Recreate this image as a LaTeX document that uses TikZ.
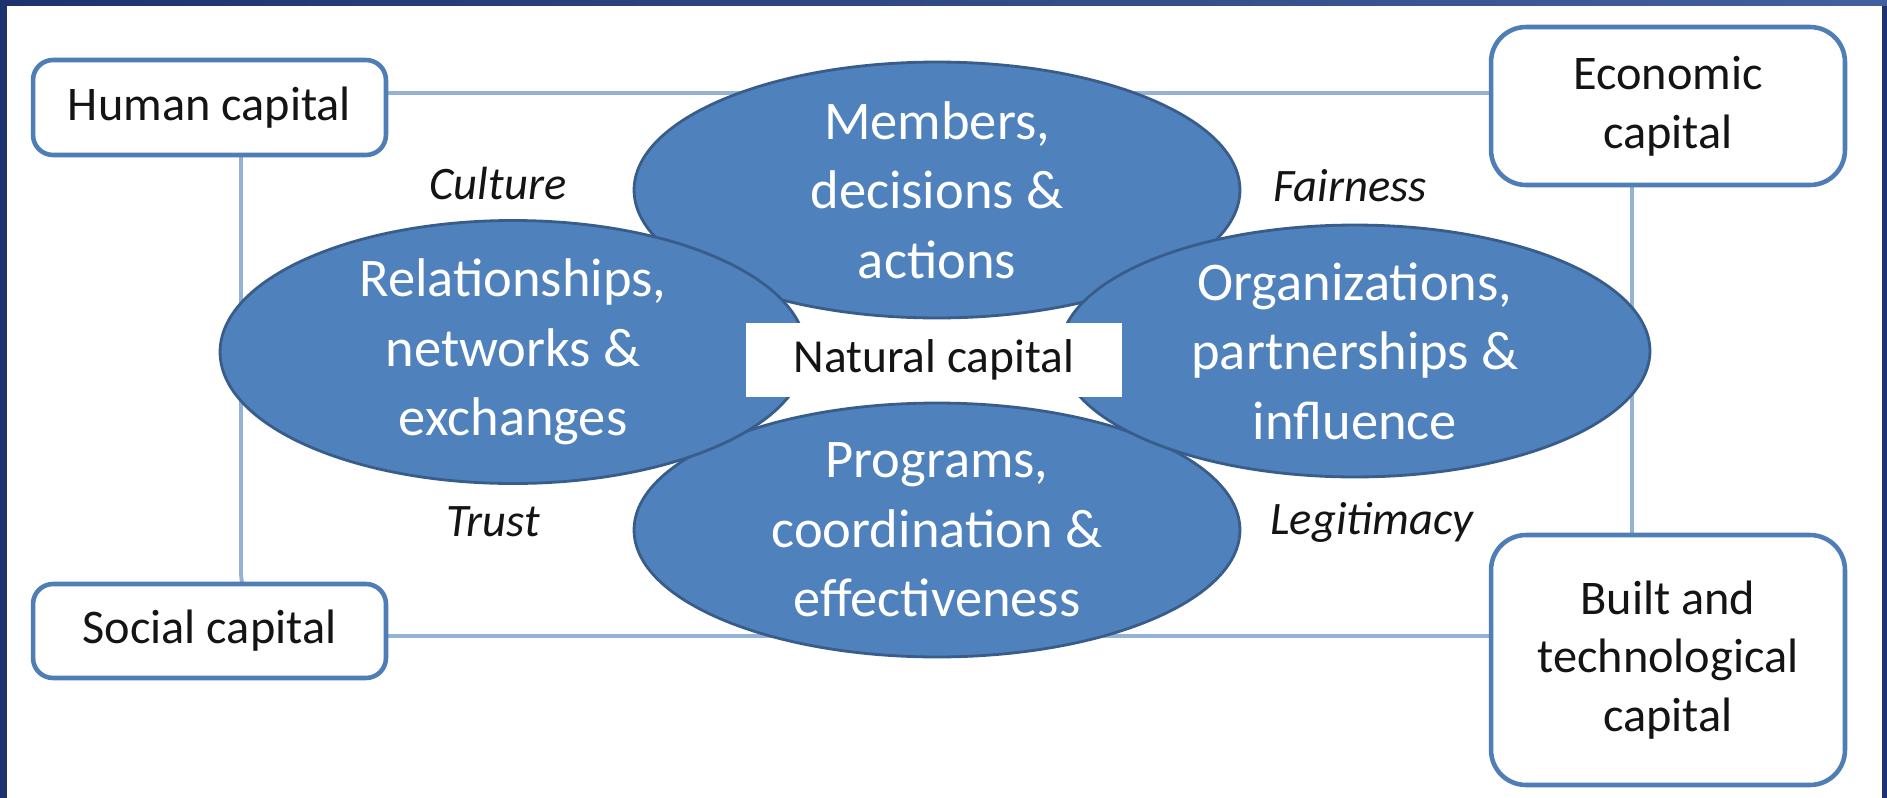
\documentclass[tikz,border=0pt]{standalone}
\usepackage{fontspec}
\setmainfont{Carlito}
\usepackage{tikz}
\usetikzlibrary{
  shapes.geometric
}
\definecolor{SlideNavy}{RGB}{31,50,112}
\definecolor{SlideNavyLight}{RGB}{66,96,158}
\definecolor{CoreBlue}{RGB}{79,129,189}
\definecolor{CoreEdge}{RGB}{56,93,138}
\definecolor{BoxEdge}{RGB}{79,125,182}
\definecolor{LinkBlue}{RGB}{149,177,212}
\definecolor{InkBlack}{RGB}{20,20,20}
\tikzset{
  capbox/.style={draw=BoxEdge,fill=white,line width=2.6pt,rounded corners=0.4cm,align=center,inner sep=0pt,text=InkBlack,font=\fontsize{27.5}{33.5}\selectfont},
  bigcapbox/.style={capbox,rounded corners=0.7cm},
  corenode/.style={ellipse,draw=CoreEdge,fill=CoreBlue,line width=1.6pt,inner sep=0pt,align=center,text=white,font=\fontsize{31}{39.5}\selectfont},
  naturalbox/.style={fill=white,minimum width=7.54cm,minimum height=1.48cm,inner sep=0pt,text=InkBlack,font=\fontsize{27}{32}\selectfont},
  bondlabel/.style={text=InkBlack,font=\fontsize{26.5}{30}\selectfont\itshape},
  framelink/.style={draw=LinkBlue,line width=2.2pt,rounded corners=1.3cm}
}

\begin{document}
\begin{tikzpicture}[x=0.02cm,y=-0.02cm]
% slide and its navy edge
\useasboundingbox (0,0) rectangle (1887,798);
\fill[white] (0,0) rectangle (1887,798);
\fill[SlideNavy] (0,0) rectangle (7,798);
\fill[SlideNavy] (1882,0) rectangle (1887,798);
\shade[left color=SlideNavy,right color=SlideNavyLight] (0,0) rectangle (1887,5);

% ring joining the four capitals
\coordinate (fnw) at (241,93);
\coordinate (fse) at (1632,636);
\draw[framelink] (fnw) rectangle (fse);

\node[capbox,minimum width=7.06cm,minimum height=1.9cm] (human) at (209.5,107.5) {Human capital};
\node[bigcapbox,minimum width=7.08cm,minimum height=3.16cm] (economic) at (1668,106) {Economic\\capital};
\node[capbox,minimum width=7.06cm,minimum height=1.88cm] (social) at (209.5,631) {Social capital};
\node[bigcapbox,minimum width=7.08cm,minimum height=5cm] (built) at (1668,660) {Built and\\technological\\capital};

% the four overlapping petals
\node[corenode,minimum width=12.12cm,minimum height=5.12cm] (members) at (937,190) {Members,\\decisions \&\\actions};
\node[corenode,minimum width=12.12cm,minimum height=5.08cm] (programs) at (937,530) {Programs,\\coordination \&\\effectiveness};
\node[corenode,minimum width=11.72cm,minimum height=5.12cm] (relations) at (513,352) {Relationships,\\networks \&\\exchanges};
\node[corenode,minimum width=11.8cm,minimum height=5.04cm] (organizations) at (1355,351) {Organizations,\\partnerships \&\\influence};
\node[naturalbox] (natural) at (934,360) {Natural capital};

\node[bondlabel] (culture) at (498,184) {Culture};
\node[bondlabel] (fairness) at (1350,186) {Fairness};
\node[bondlabel] (trust) at (493,522) {Trust};
\node[bondlabel] (legitimacy) at (1372,522) {Legitimacy};
\end{tikzpicture}
\end{document}
